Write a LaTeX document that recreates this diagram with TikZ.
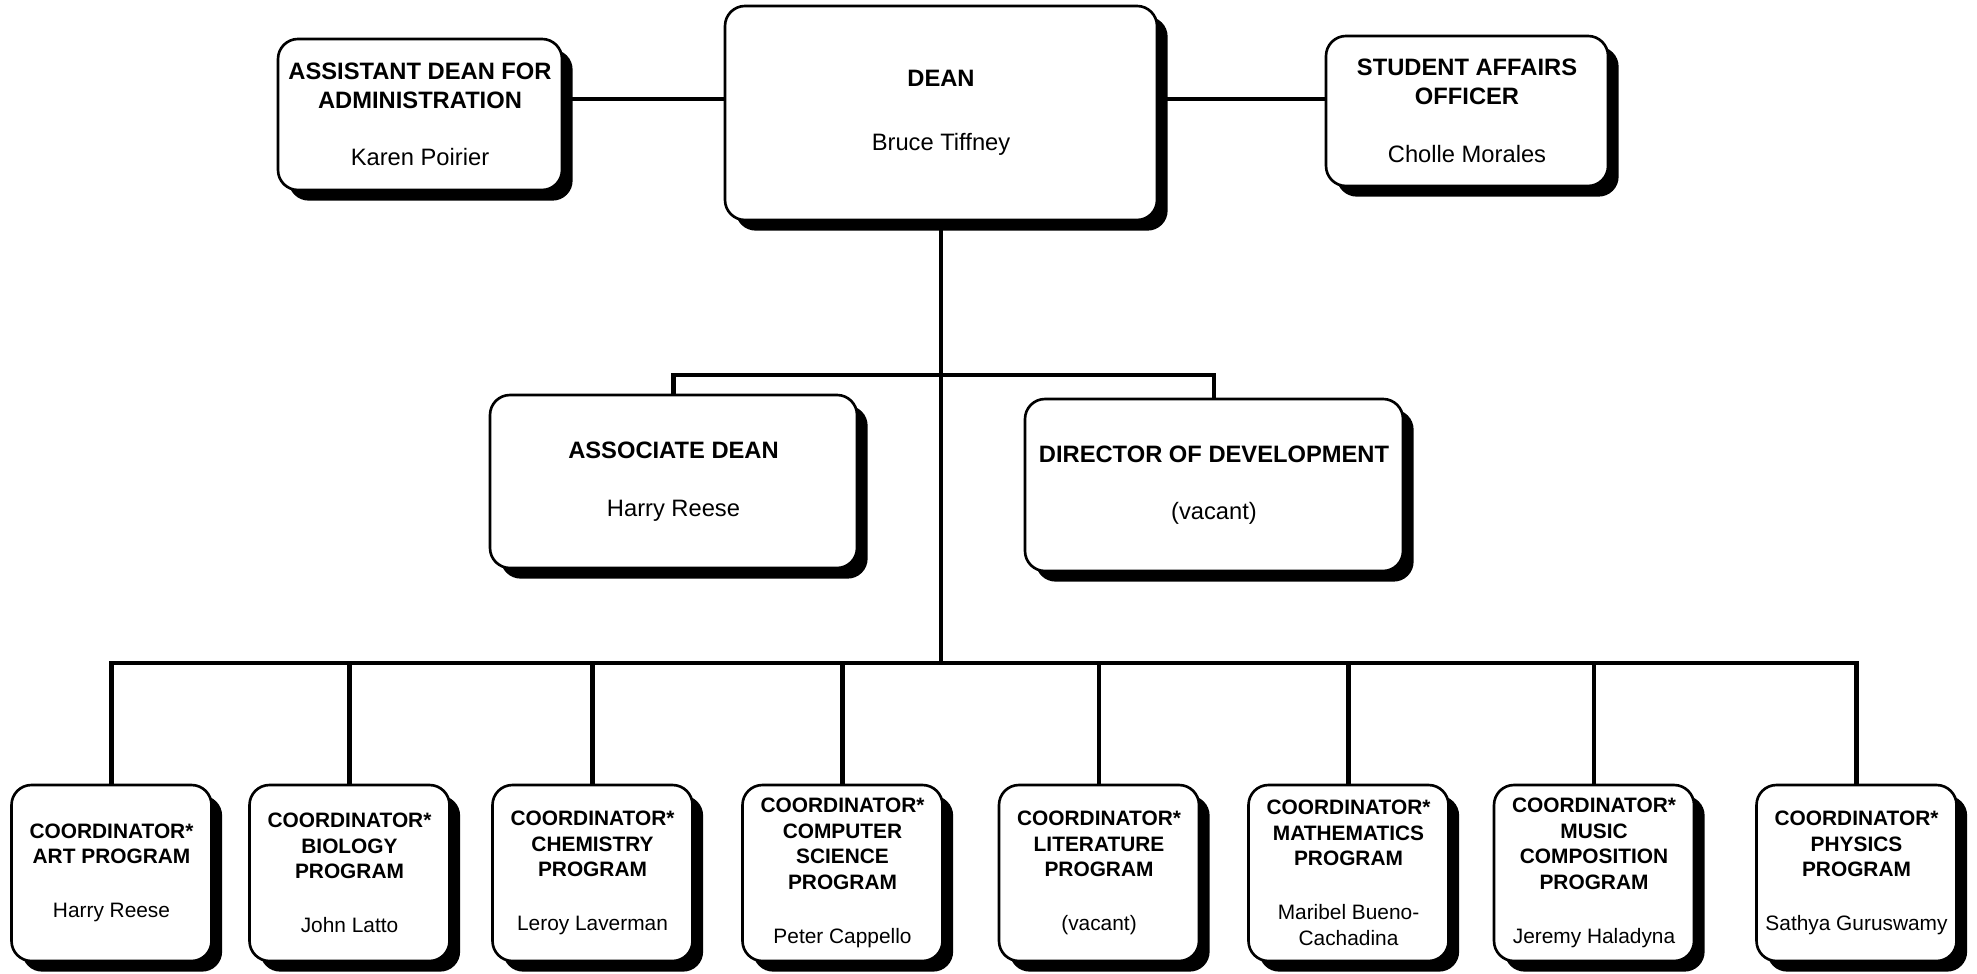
\documentclass[tikz,border=0pt]{standalone}
\usepackage{fontspec}
\setmainfont{Liberation Sans}
\usetikzlibrary{shadows}

\begin{document}
\begin{tikzpicture}

    \tikzset{box/.style={draw, line width=1.2pt, rounded corners=0.32cm, fill=white, align=center,
                         drop shadow={shadow xshift=0.17cm, shadow yshift=-0.17cm, opacity=1, fill=black}}}
    \tikzset{topbox/.style={box, font=\fontsize{10.8}{13.2}\selectfont}}
    \tikzset{progbox/.style={box, minimum width=3.2cm, minimum height=2.816cm, font=\fontsize{9.5}{11.6}\selectfont}}
    \tikzset{link/.style={line width=2.2pt}}

    \useasboundingbox (0,0) rectangle (31.632,15.568);

    % top row
    \node[topbox, minimum width=4.544cm, minimum height=2.416cm] (asst) at (6.72, 13.736)
        {\textbf{ASSISTANT DEAN FOR}\\\textbf{ADMINISTRATION}\\[13pt]Karen Poirier};
    \node[topbox, minimum width=6.912cm, minimum height=3.424cm] (dean) at (15.056, 13.76)
        {\textbf{DEAN}\\[16pt]Bruce Tiffney};
    \node[topbox, minimum width=4.512cm, minimum height=2.4cm] (saff) at (23.472, 13.792)
        {\textbf{STUDENT AFFAIRS}\\\textbf{OFFICER}\\[13pt]Cholle Morales};

    % middle row
    \node[topbox, minimum width=5.872cm, minimum height=2.768cm] (assoc) at (10.776, 7.864)
        {\textbf{ASSOCIATE DEAN}\\[13pt]Harry Reese};
    \node[topbox, minimum width=6.048cm, minimum height=2.752cm] (dir) at (19.424, 7.808)
        {\textbf{DIRECTOR OF DEVELOPMENT}\\[13pt](vacant)};

    % coordinators
    \node[progbox] (art) at ( 1.784, 1.6) {\textbf{COORDINATOR*}\\\textbf{ART PROGRAM}\\[13pt]Harry Reese};
    \node[progbox] (bio) at ( 5.592, 1.6) {\textbf{COORDINATOR*}\\\textbf{BIOLOGY}\\\textbf{PROGRAM}\\[13pt]John Latto};
    \node[progbox] (chem) at ( 9.48, 1.6) {\textbf{COORDINATOR*}\\\textbf{CHEMISTRY}\\\textbf{PROGRAM}\\[13pt]Leroy Laverman};
    \node[progbox] (cs) at (13.48, 1.6) {\textbf{COORDINATOR*}\\\textbf{COMPUTER}\\\textbf{SCIENCE}\\\textbf{PROGRAM}\\[13pt]Peter Cappello};
    \node[progbox] (lit) at (17.584, 1.6) {\textbf{COORDINATOR*}\\\textbf{LITERATURE}\\\textbf{PROGRAM}\\[13pt](vacant)};
    \node[progbox] (math) at (21.576, 1.6) {\textbf{COORDINATOR*}\\\textbf{MATHEMATICS}\\\textbf{PROGRAM}\\[13pt]Maribel Bueno-\\Cachadina};
    \node[progbox] (mus) at (25.504, 1.6) {\textbf{COORDINATOR*}\\\textbf{MUSIC}\\\textbf{COMPOSITION}\\\textbf{PROGRAM}\\[13pt]Jeremy Haladyna};
    \node[progbox] (phys) at (29.704, 1.6) {\textbf{COORDINATOR*}\\\textbf{PHYSICS}\\\textbf{PROGRAM}\\[13pt]Sathya Guruswamy};

    \coordinate (hl) at (15.056, 13.984);
    \coordinate (br) at (15.056, 9.568);
    \coordinate (bus) at (15.056, 4.96);

    \begin{scope}[every path/.style={link}]
        \draw (asst.east |- hl) -- (dean.west |- hl);
        \draw (dean.east |- hl) -- (saff.west |- hl);

        \draw (dean.south) -- (bus);
        \draw (assoc.north) |- (br) -| (dir.north);

        \draw (art.north) |- (bus) -| (phys.north);
        \draw (bio.north) -- (bio.north |- bus);
        \draw (chem.north) -- (chem.north |- bus);
        \draw (cs.north) -- (cs.north |- bus);
        \draw (lit.north) -- (lit.north |- bus);
        \draw (math.north) -- (math.north |- bus);
        \draw (mus.north) -- (mus.north |- bus);
    \end{scope}

\end{tikzpicture}
\end{document}
